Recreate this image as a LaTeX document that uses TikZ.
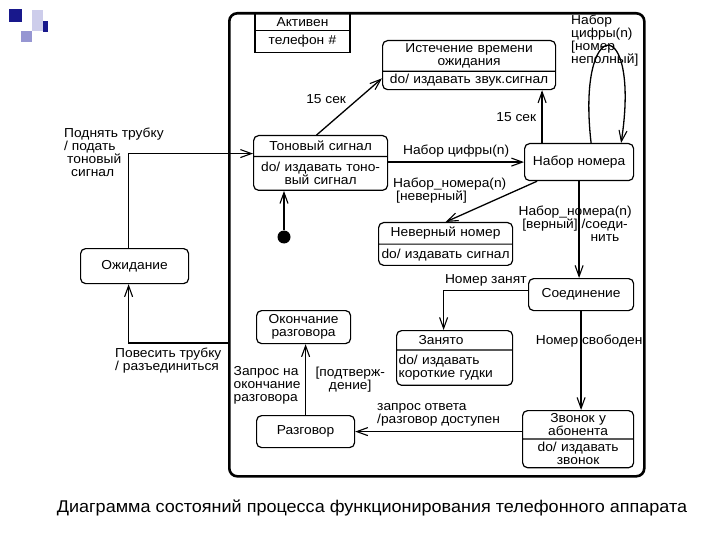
\documentclass[tikz,border=0pt]{standalone}
\usepackage{fontspec}
\setmainfont{Liberation Sans}[FakeStretch=1.06]
\usepackage{xcolor}
\usetikzlibrary{arrows.meta, calc, positioning, shapes.multipart}
\definecolor{markdark}{RGB}{24,24,140}
\definecolor{markmid}{RGB}{150,150,210}
\definecolor{marklight}{RGB}{205,205,235}

\begin{document}
\begin{tikzpicture}[x=1pt, y=-1pt,
  every node/.style={align=center, font=\fontsize{13}{13}\selectfont},
  state/.style={draw, rounded corners=5pt, line width=1.2pt, inner xsep=2pt, anchor=north west},
  splitstate/.style={state, rectangle split, rectangle split parts=2},
  trans/.style={-{Straight Barb[length=11pt, width=8pt, line width=1.1pt]}, line width=1.3pt},
  lbl/.style={inner sep=0pt, align=left}]
\useasboundingbox (0,0) rectangle (720,540);
\fill[markdark] (9,9) rectangle (22,22);
\fill[marklight] (32,10) rectangle (43,31);
\fill[markdark] (43,21) rectangle (48,32);
\fill[markmid] (21,31) rectangle (32,42);

\node[draw, line width=2.6pt, rounded corners=8pt, minimum width=415pt, minimum height=463pt, inner sep=0pt, anchor=north west] (frame) at (228,12) {};
\node[draw, line width=1.2pt, rectangle split, rectangle split parts=2, text width=91pt, inner xsep=2pt, inner ysep=4pt, anchor=north] (active) at (302.5,12) {Активен\nodepart{two}телефон \#};

\node[splitstate, text width=169pt, inner ysep=2.5pt] (timeout) at (382,40) {Истечение времени\\ожидания\nodepart{two}do/ издавать звук.сигнал};
\node[splitstate, text width=130pt, inner ysep=5pt] (tone) at (253,135) {Тоновый сигнал\nodepart{two}do/ издавать тоно-\\вый сигнал};
\node[state, minimum width=109pt, minimum height=37pt] (dial) at (524,143) {Набор номера};
\node[splitstate, text width=130pt, inner ysep=4pt] (wrong) at (378,222) {Неверный номер\nodepart{two}do/ издавать сигнал};
\node[state, minimum width=108pt, minimum height=35pt] (idle) at (80,248) {Ожидание};
\node[state, minimum width=105pt, minimum height=32pt] (connect) at (528,278) {Соединение};
\node[state, minimum width=94pt, minimum height=33pt] (endtalk) at (256,310) {Окончание\\разговора};
\node[splitstate, text width=112pt, inner ysep=4.5pt, align=left] (busy) at (396,330) {\hspace*{20pt}Занято\nodepart{two}do/ издавать\\короткие гудки};
\node[state, minimum width=98pt, minimum height=32pt] (talk) at (256,415) {Разговор};
\node[splitstate, text width=107pt, inner ysep=2.5pt] (ring) at (522,410) {Звонок у\\абонента\nodepart{two}do/ издавать\\звонок};
\node[circle, fill, inner sep=0pt, minimum size=13pt] (init) at (284,237) {};
\coordinate (hangup) at (frame.west |- 0,343);

\draw[trans] ([xshift=-6pt]idle.north) |- ([yshift=3pt]tone.text split west);
\node[lbl, anchor=north west] (pickuplbl) at (64,128) {Поднять трубку\\/ подать\\\hspace*{3pt}тоновый\\\hspace*{7pt}сигнал};
\draw[trans] (hangup) -| ([xshift=-6pt]idle.south)
  node[pos=0.25, below=1pt, xshift=-10pt, align=left] {Повесить трубку\\/ разъединиться};
\draw[trans] (init) -- (init |- tone.south);
\draw[trans] ([xshift=-4pt]tone.north) -- ([yshift=-7pt]timeout.text split west)
  node[midway, above left=-1pt] {15 сек};
\draw[trans] ([xshift=-37pt]dial.north) -- ([xshift=-37pt]dial.north |- timeout.south)
  node[midway, left=2pt] {15 сек};
\draw[trans] (tone.east |- dial.west) -- (dial.west)
  node[midway, above=1pt] {Набор цифры(n)};
\draw[trans] ([xshift=12pt]dial.north) .. controls +(-15,-130) and +(20,-130) .. ([xshift=42pt]dial.north);
\node[lbl, anchor=north west] (looplbl) at (571,15) {Набор\\цифры(n)\\{}[номер\\неполный]};
\draw[trans] ([xshift=-42pt]dial.south) -- (wrong.north);
\node[lbl, anchor=north west] (wronglbl) at (393,178) {Набор\_номера(n)\\\hspace*{3pt}[неверный]};
\draw[trans] (dial.south) -- (dial.south |- connect.north)
  node[pos=0.44, xshift=-4pt] {Набор\_номера(n)\\{}[верный] /соеди-\\\hspace*{4.6em}нить};
\draw[trans] ([yshift=4pt]connect.west) -| ([xshift=-11pt]busy.north)
  node[pos=0.25, above=0pt] {Номер занят};
\draw[trans] (connect.south) -- (connect.south |- ring.north)
  node[pos=0.3, xshift=8pt] {Номер свободен};
\draw[trans] (ring.west |- talk.east) -- (talk.east)
  node[midway, above=1pt, align=left] {запрос ответа\\/разговор доступен};
\draw[trans] (talk.north) -- (talk.north |- endtalk.south)
  node[pos=0.42, left=1pt, align=left] {Запрос на\\окончание\\разговора}
  node[pos=0.5, right=6pt] {[подтверж-\\дение]};

\node[font=\fontsize{17}{17}\selectfont] (caption) at (372,508) {Диаграмма состояний процесса функционирования телефонного аппарата};
\end{tikzpicture}
\end{document}
